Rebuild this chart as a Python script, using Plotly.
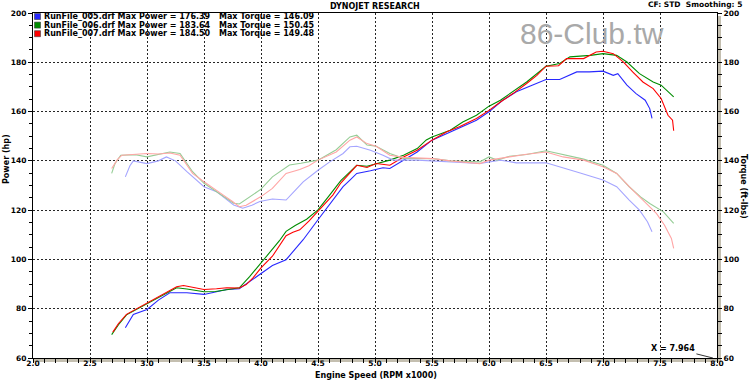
import plotly.graph_objects as go

# ---------------- data ----------------
series_names = ["RunFile_005.drf", "RunFile_006.drf", "RunFile_007.drf"]
max_power = ["176.39", "183.64", "184.50"]
max_torque = ["146.09", "150.45", "149.48"]

rpm_005_hp = [2.81, 2.88, 3.0, 3.10, 3.2, 3.35, 3.5, 3.60, 3.70, 3.81, 3.90, 4.0, 4.10, 4.22, 4.30,
              4.37, 4.5, 4.60, 4.72, 4.78, 4.84, 4.96, 5.07, 5.13, 5.25, 5.37, 5.5, 5.66, 5.89, 6.0,
              6.12, 6.24, 6.39, 6.5, 6.62, 6.77, 6.88, 7.0, 7.09, 7.13, 7.21, 7.29, 7.37, 7.41, 7.43]
hp_005 = [72.3, 77.7, 79.7, 83.5, 86.5, 86.5, 85.8, 86.8, 87.8, 88.1, 91.0, 94.5, 97.5, 99.9, 104.0,
          108.0, 116.1, 122.0, 129.5, 132.2, 134.9, 136.0, 137.2, 136.9, 140.3, 143.6, 148.4, 151.8, 156.5, 159.9,
          164.6, 168.0, 170.7, 173.0, 173.0, 176.1, 176.1, 176.4, 174.7, 175.4, 170.7, 167.3, 164.6, 161.2, 157.2]

rpm_006_hp = [2.69, 2.75, 2.82, 2.90, 3.0, 3.10, 3.26, 3.35, 3.5, 3.60, 3.70, 3.81, 3.90, 4.0, 4.10,
              4.16, 4.22, 4.30, 4.40, 4.5, 4.60, 4.70, 4.78, 4.84, 4.93, 5.01, 5.13, 5.25, 5.37, 5.45,
              5.5, 5.66, 5.77, 5.89, 6.0, 6.10, 6.21, 6.33, 6.5, 6.62, 6.71, 6.89, 7.0, 7.12, 7.21,
              7.32, 7.44, 7.51, 7.62]
hp_006 = [69.5, 73.5, 77.5, 79.5, 81.8, 84.5, 88.5, 88.0, 86.9, 87.0, 87.8, 88.5, 93.0, 98.6, 104.0,
          107.5, 111.4, 113.8, 116.3, 120.1, 126.0, 132.0, 135.5, 138.2, 137.8, 138.9, 140.3, 142.3, 145.0, 148.5,
          149.7, 152.4, 155.8, 158.5, 162.2, 164.6, 168.0, 172.0, 178.4, 179.5, 182.2, 182.8, 183.5, 182.8, 180.1,
          175.4, 172.0, 170.7, 166.0]

rpm_007_hp = [2.70, 2.75, 2.82, 2.90, 3.0, 3.11, 3.20, 3.26, 3.32, 3.40, 3.5, 3.61, 3.70, 3.81, 3.87,
              3.93, 4.0, 4.10, 4.16, 4.22, 4.28, 4.34, 4.42, 4.5, 4.63, 4.70, 4.78, 4.84, 4.93, 5.01,
              5.13, 5.25, 5.37, 5.5, 5.63, 5.74, 5.89, 6.0, 6.10, 6.21, 6.33, 6.42, 6.5, 6.61, 6.68,
              6.83, 6.94, 7.0, 7.09, 7.18, 7.26, 7.35, 7.44, 7.51, 7.57, 7.61, 7.62]
hp_007 = [70.5, 74.0, 77.7, 79.8, 82.4, 85.1, 87.6, 88.9, 89.4, 88.7, 87.8, 88.1, 88.5, 88.4, 89.8,
          92.5, 96.6, 101.3, 105.5, 109.6, 111.0, 112.0, 115.5, 119.4, 126.1, 131.0, 134.9, 138.2, 137.3, 138.9,
          138.2, 141.6, 144.3, 148.4, 151.8, 153.8, 157.2, 160.5, 163.9, 167.3, 171.4, 174.7, 178.4, 178.6, 181.5,
          181.5, 184.2, 184.5, 183.5, 180.1, 176.1, 172.0, 169.3, 165.3, 158.5, 156.5, 152.2]

rpm_005_tq = [2.81, 2.85, 2.88, 3.0, 3.10, 3.17, 3.25, 3.35, 3.5, 3.61, 3.76, 3.84, 3.92, 3.99, 4.10,
              4.22, 4.30, 4.37, 4.5, 4.60, 4.72, 4.78, 4.84, 4.96, 5.07, 5.16, 5.37, 5.66, 5.92, 6.10,
              6.24, 6.5, 6.62, 6.80, 7.0, 7.12, 7.23, 7.32, 7.39, 7.43]
tq_005 = [133.5, 138.0, 140.0, 138.9, 140.0, 141.6, 140.0, 135.6, 129.5, 127.5, 122.1, 120.8, 122.0, 123.5, 124.5,
          124.1, 128.0, 131.5, 136.2, 139.5, 143.0, 145.7, 145.9, 144.3, 142.3, 140.3, 140.3, 139.6, 138.9, 140.3,
          139.2, 139.2, 137.6, 135.1, 132.2, 129.5, 124.1, 120.0, 115.3, 111.2]

rpm_006_tq = [2.69, 2.72, 2.77, 2.90, 3.0, 3.10, 3.2, 3.29, 3.40, 3.5, 3.62, 3.76, 3.81, 3.93, 4.0,
              4.10, 4.25, 4.35, 4.5, 4.66, 4.78, 4.84, 4.93, 5.01, 5.13, 5.25, 5.51, 5.66, 5.92, 6.0,
              6.07, 6.18, 6.33, 6.5, 6.68, 6.83, 7.0, 7.12, 7.23, 7.33, 7.41, 7.53, 7.62]
tq_006 = [134.9, 139.0, 142.3, 142.5, 141.6, 142.5, 143.6, 143.0, 135.6, 130.9, 127.0, 122.8, 122.5, 126.1, 128.5,
          133.5, 138.3, 139.0, 140.3, 144.5, 149.7, 150.4, 146.4, 145.9, 143.0, 141.0, 140.9, 140.0, 139.6, 141.6,
          140.3, 141.9, 142.6, 144.1, 142.3, 140.7, 138.2, 134.9, 129.5, 125.4, 122.7, 119.3, 114.6]

rpm_007_tq = [2.69, 2.74, 2.78, 2.90, 3.0, 3.10, 3.2, 3.29, 3.34, 3.40, 3.5, 3.60, 3.67, 3.75, 3.81,
              3.87, 3.93, 4.0, 4.10, 4.22, 4.34, 4.42, 4.5, 4.66, 4.78, 4.84, 4.93, 5.01, 5.13, 5.25,
              5.51, 5.66, 5.92, 6.0, 6.18, 6.33, 6.5, 6.65, 6.83, 7.0, 7.12, 7.23, 7.35, 7.47, 7.54,
              7.60, 7.62]
tq_007 = [136.9, 140.5, 142.3, 142.8, 143.0, 142.8, 143.2, 142.3, 139.0, 134.9, 131.5, 128.5, 126.1, 123.5, 121.4,
          122.0, 123.5, 125.5, 128.8, 134.9, 136.5, 138.0, 140.3, 143.6, 148.4, 149.7, 147.0, 145.9, 142.3, 141.4,
          140.9, 140.0, 138.9, 140.3, 141.6, 142.7, 143.6, 141.6, 140.3, 137.6, 134.9, 129.5, 124.1, 118.6, 113.9,
          108.5, 104.5]

x_ticks = [2.0, 2.5, 3.0, 3.5, 4.0, 4.5, 5.0, 5.5, 6.0, 6.5, 7.0, 7.5, 8.0]
y_ticks = [60, 80, 100, 120, 140, 160, 180, 200]
cursor_x = 7.964

# ---------------- styling ----------------
W, H = 750, 380
L, R, T, B = 33, 33, 13, 22
PW, PH = W - L - R, H - T - B


def px(x):
    return (x - L) / PW


def py(y):
    return (H - B - y) / PH


FONT = "DejaVu Sans"
power_colors = ["rgb(40,40,255)", "rgb(0,140,0)", "rgb(255,0,0)"]
torque_colors = ["rgb(165,165,255)", "rgb(150,205,150)", "rgb(255,165,165)"]

fig = go.Figure()

tq_data = [(rpm_005_tq, tq_005), (rpm_006_tq, tq_006), (rpm_007_tq, tq_007)]
hp_data = [(rpm_005_hp, hp_005), (rpm_006_hp, hp_006), (rpm_007_hp, hp_007)]

for i, (xs, ys) in enumerate(tq_data):
    fig.add_trace(go.Scatter(x=xs, y=ys, mode="lines", yaxis="y2", showlegend=False,
                             line=dict(color=torque_colors[i], width=1.1), hoverinfo="skip"))
for i, (xs, ys) in enumerate(hp_data):
    fig.add_trace(go.Scatter(x=xs, y=ys, mode="lines", showlegend=False,
                             line=dict(color=power_colors[i], width=1.1), hoverinfo="skip"))

tickfont = dict(family=FONT, size=7.5, color="black", weight="bold")
grid = dict(showgrid=True, gridcolor="rgba(0,0,0,0.85)", griddash="2px,2px", gridwidth=1)

fig.update_layout(
    width=W, height=H, margin=dict(l=L, r=R, t=T, b=B, pad=0, autoexpand=False),
    paper_bgcolor="white", plot_bgcolor="white", showlegend=False,
    xaxis=dict(range=[2, 8], tickvals=x_ticks, ticktext=[f"{v:.1f}" for v in x_ticks],
               showline=True, linecolor="black", linewidth=1, mirror=True, automargin=False,
               ticks="outside", ticklen=4, tickcolor="black", tickfont=tickfont, ticklabelstandoff=-6,
               minor=dict(dtick=0.1, ticks="outside", ticklen=4, tickcolor="black", showgrid=False),
               zeroline=False, fixedrange=True, **grid),
    yaxis=dict(range=[60, 200], tickvals=y_ticks, showline=True, linecolor="black", linewidth=1,
               automargin=False,
               ticks="outside", ticklen=4, tickcolor="black", tickfont=tickfont,
               minor=dict(dtick=5, ticks="outside", ticklen=3, tickcolor="black", showgrid=False),
               zeroline=False, fixedrange=True, **grid),
    yaxis2=dict(range=[60, 200], tickvals=y_ticks, overlaying="y", side="right", anchor="x",
                showline=True, linecolor="black", linewidth=1, automargin=False,
                ticks="outside", ticklen=4, tickcolor="black", tickfont=tickfont,
                minor=dict(dtick=5, ticks="outside", ticklen=4, tickcolor="black", showgrid=False),
                showgrid=False, zeroline=False, fixedrange=True),
)

# gray bevel bands (bottom and right)
band = "#c4bfb0"
fig.add_shape(type="rect", xref="paper", yref="paper", x0=0, x1=1 + 4 / PW, y0=-4 / PH, y1=0,
              fillcolor=band, line=dict(width=0), layer="below")
fig.add_shape(type="rect", xref="paper", yref="paper", x0=1, x1=1 + 4 / PW, y0=-4 / PH, y1=1 - 3 / PH,
              fillcolor=band, line=dict(width=0), layer="below")

# legend block (swatches + text)
for i in range(3):
    yc = 16.5 + i * 8.6
    fig.add_shape(type="rect", xref="paper", yref="paper",
                  x0=px(34.5), x1=px(40.5), y0=py(yc + 3), y1=py(yc - 3),
                  fillcolor=power_colors[i], line=dict(color="rgb(60,60,60)", width=0.6))
    fig.add_annotation(xref="paper", yref="paper", x=px(41.5), y=py(yc), xanchor="left", yanchor="middle",
                       text=f"{series_names[i]} Max Power = {max_power[i]}", showarrow=False,
                       font=dict(family=FONT, size=8, color="black", weight="bold"))
    fig.add_annotation(xref="paper", yref="paper", x=px(217), y=py(yc), xanchor="left", yanchor="middle",
                       text=f"Max Torque = {max_torque[i]}", showarrow=False,
                       font=dict(family=FONT, size=8, color="black", weight="bold"))

# titles
fig.add_annotation(xref="paper", yref="paper", x=px(375), y=py(6.5), xanchor="center", yanchor="middle",
                   text="DYNOJET RESEARCH", showarrow=False,
                   font=dict(family=FONT, size=8, color="black", weight="bold"))
fig.add_annotation(xref="paper", yref="paper", x=px(744), y=py(4.5), xanchor="right", yanchor="middle",
                   text="CF: STD  Smoothing: 5", showarrow=False,
                   font=dict(family=FONT, size=7.5, color="black", weight="bold"))
fig.add_annotation(xref="paper", yref="paper", x=px(592), y=py(34), xanchor="center", yanchor="middle",
                   text="86-Club.tw", showarrow=False,
                   font=dict(family="Liberation Sans", size=30, color="#a9a9a9"))

# axis titles
fig.add_annotation(xref="paper", yref="paper", x=px(376), y=py(375), xanchor="center", yanchor="middle",
                   text="Engine Speed (RPM x1000)", showarrow=False,
                   font=dict(family=FONT, size=8, color="black", weight="bold"))
fig.add_annotation(xref="paper", yref="paper", x=px(6), y=py(159), xanchor="center", yanchor="middle",
                   text="Power (hp)", textangle=-90, showarrow=False,
                   font=dict(family=FONT, size=8, color="black", weight="bold"))
fig.add_annotation(xref="paper", yref="paper", x=px(743), y=py(186), xanchor="center", yanchor="middle",
                   text="Torque (ft-lbs)", textangle=90, showarrow=False,
                   font=dict(family=FONT, size=8, color="black", weight="bold"))

# cursor annotation
fig.add_annotation(x=cursor_x, y=60, xref="x", yref="y", text=f"X = {cursor_x:.3f}",
                   showarrow=True, arrowhead=0, arrowwidth=0.8, arrowcolor="black",
                   ax=-40, ay=-10, font=dict(family=FONT, size=8, color="black", weight="bold"))

fig.write_html("out.html", config={"displayModeBar": False},
               post_script="document.body.style.margin='0';document.body.style.overflow='hidden';")
